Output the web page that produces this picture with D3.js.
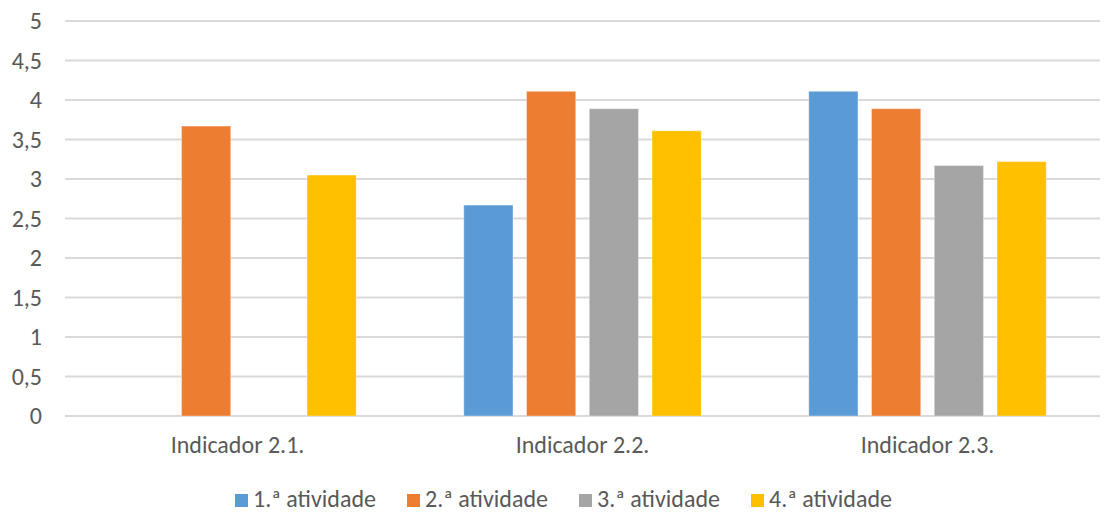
<!doctype html>
<html lang="pt">
<head>
<meta charset="utf-8">
<title>Indicadores por atividade</title>
<script src="https://d3js.org/d3.v7.min.js"></script>
<style>
  body { margin: 0; background: #fff; }
  svg text { font-family: Carlito, Calibri, "Liberation Sans", sans-serif; fill: #595959; }
  .grid line { stroke: #d9d9d9; stroke-width: 2px; }
</style>
</head>
<body>
<div id="chart"></div>
<script>
// data
var categories = ["Indicador 2.1.", "Indicador 2.2.", "Indicador 2.3."];
var seriesNames = ["1.ª atividade", "2.ª atividade", "3.ª atividade", "4.ª atividade"];
var seriesColors = ["#5b9bd5", "#ed7d31", "#a5a5a5", "#ffc000"];
var atividade1 = [0, 2.67, 4.11];
var atividade2 = [3.67, 4.11, 3.89];
var atividade3 = [0, 3.89, 3.17];
var atividade4 = [3.05, 3.61, 3.22];
var yTicks = [0, 0.5, 1, 1.5, 2, 2.5, 3, 3.5, 4, 4.5, 5];

var allSeries = [atividade1, atividade2, atividade3, atividade4];

var width = 1118, height = 513;
var margin = {top: 21, right: 18, bottom: 97, left: 65};
var plotW = width - margin.left - margin.right,
    plotH = height - margin.top - margin.bottom;

var svg = d3.select("#chart").append("svg")
  .attr("width", width)
  .attr("height", height);

var main = svg.append("g")
  .attr("transform", "translate(" + margin.left + "," + margin.top + ")");

var x0 = d3.scaleBand().domain(categories).range([0, plotW]).paddingInner(0).paddingOuter(0);
var x1 = d3.scaleBand().domain(d3.range(seriesNames.length))
  .range([47, x0.bandwidth() - 47]).paddingInner(0.216).paddingOuter(0.108);
var y = d3.scaleLinear().domain([0, 5]).range([plotH, 0]);

// gridlines
main.append("g").attr("class", "grid")
  .selectAll("line").data(yTicks).enter().append("line")
  .attr("x1", 0).attr("x2", plotW)
  .attr("y1", function(d) { return y(d); })
  .attr("y2", function(d) { return y(d); });

// y axis labels
var yAxis = d3.axisLeft(y).tickValues(yTicks).tickSize(0).tickPadding(23)
  .tickFormat(function(d) { return String(d).replace(".", ","); });
var ya = main.append("g").call(yAxis);
ya.select(".domain").remove();
ya.selectAll("text").style("font-size", "24px").attr("fill", "#595959");

// bars
var groups = main.selectAll(".group").data(categories).enter().append("g")
  .attr("transform", function(d) { return "translate(" + x0(d) + ",0)"; });

groups.selectAll("rect")
  .data(function(d, i) { return allSeries.map(function(s, j) { return {s: j, v: s[i]}; }).filter(function(e) { return e.v > 0; }); })
  .enter().append("rect")
  .attr("x", function(d) { return x1(d.s); })
  .attr("width", x1.bandwidth())
  .attr("y", function(d) { return y(d.v); })
  .attr("height", function(d) { return plotH - y(d.v); })
  .attr("fill", function(d) { return seriesColors[d.s]; })
  .attr("stroke", "#fff").attr("stroke-opacity", 0.35).attr("stroke-width", 1);

// category labels
var xAxis = d3.axisBottom(x0).tickSize(0).tickPadding(20);
var xa = main.append("g").attr("transform", "translate(0," + plotH + ")").call(xAxis);
xa.select(".domain").remove();
xa.selectAll("text").style("font-size", "24px").attr("fill", "#595959");

// legend
var legend = svg.append("g").attr("transform", "translate(235,494)");
var item = legend.selectAll(".item").data(seriesNames).enter().append("g")
  .attr("transform", function(d, i) { return "translate(" + (i * 172) + ",0)"; });
item.append("rect").attr("x", 0).attr("y", 0).attr("width", 13).attr("height", 13)
  .attr("fill", function(d, i) { return seriesColors[i]; });
item.append("text").attr("x", 18).attr("y", 13).style("font-size", "24px").text(function(d) { return d; });
</script>
</body>
</html>
